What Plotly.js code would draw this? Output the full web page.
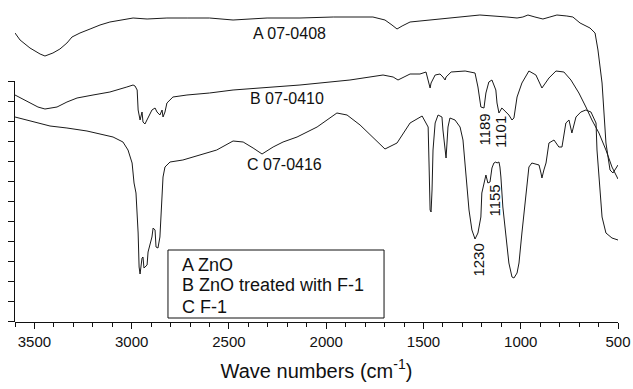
<!DOCTYPE html>
<html>
<head>
<meta charset="utf-8">
<script src="https://cdn.plot.ly/plotly-3.0.1.min.js"></script>
<style>html,body{margin:0;padding:0;background:#fff;}#chart{width:633px;height:389px;}</style>
</head>
<body>
<div id="chart"></div>
<script>
// Wavenumbers (cm-1) and relative transmittance (arbitrary, offset traces)
const waveA = [3600,3574,3523,3471,3446,3405,3369,3333,3307,3266,3214,3163,3112,3060,2993,2921,2819,2715,2600,2479,2304,2135,1964,1760,1698,1662,1636,1610,1569,1518,1364,1210,1071,1019,989,963,927,886,850,814,763,732,695,644,618,603,582,577,572,562,541,526,500];
const transA = [289,282,274,268,266,269,273,279,285,289,293,297,300,302,304,303,304,304,304,302,304,304,305,305,302,297,293,296,300,301,304,307,305,304,305,307,305,303,305,307,306,305,299,294,289,272,239,222,205,179,152,149,157];

const waveB = [3600,3533,3482,3446,3384,3333,3281,3199,3112,3025,2993,2983,2972,2967,2957,2947,2942,2932,2916,2896,2880,2870,2855,2844,2839,2829,2819,2803,2788,2716,2600,2479,2135,1878,1708,1656,1631,1600,1569,1518,1487,1466,1461,1440,1415,1400,1389,1384,1358,1286,1235,1220,1205,1189,1179,1164,1148,1128,1122,1112,1097,1076,1061,1045,1035,1019,994,958,922,891,855,819,778,742,701,665,634,598,562,531,500];
const transB = [227,220,215,213,215,220,224,227,230,235,237,236,232,212,202,210,200,198,205,212,214,210,207,212,205,210,219,222,225,227,229,232,237,242,247,245,242,245,248,248,250,234,239,247,248,245,242,245,250,251,249,235,215,214,229,240,242,232,219,209,214,210,207,202,204,225,239,251,247,234,244,251,250,242,229,215,202,189,172,155,143];

const waveC = [3600,3420,3333,3230,3163,3096,3045,3019,2998,2988,2978,2967,2962,2957,2947,2942,2937,2921,2916,2906,2896,2890,2880,2875,2865,2855,2844,2839,2829,2803,2737,2650,2563,2479,2427,2376,2330,2273,2222,2150,2047,1945,1893,1826,1760,1698,1636,1569,1507,1476,1471,1466,1461,1456,1451,1440,1425,1405,1400,1384,1374,1364,1338,1312,1297,1276,1266,1251,1235,1220,1205,1200,1184,1179,1169,1158,1153,1148,1138,1128,1122,1112,1107,1102,1092,1076,1061,1045,1035,1019,1009,994,973,958,943,922,906,896,891,881,870,855,829,804,788,768,752,737,716,691,665,639,613,608,598,582,562,531,500];
const transC = [205,196,194,191,188,185,180,172,159,139,129,89,55,48,64,65,54,57,70,77,85,94,92,75,74,85,122,145,155,160,162,167,172,181,180,174,168,175,180,185,195,209,207,197,185,173,179,199,206,195,155,112,110,132,172,199,207,205,192,164,195,204,202,195,182,139,112,92,83,89,105,129,145,147,139,140,147,154,159,160,159,160,155,145,115,85,59,45,44,49,59,89,132,155,159,158,157,149,144,152,159,179,182,175,175,199,202,189,205,210,212,210,199,172,145,105,89,84,82];

const seriesLabels = ["A 07-0408", "B 07-0410", "C 07-0416"];
const labelWave = [2191, 2202, 2215];
const labelTrans = [288.5, 224, 157.5];

const peakLabels = ["1189", "1101", "1155", "1230"];
const peakWave = [1191, 1104, 1137, 1222];
const peakTrans = [192, 189.5, 121.5, 62];

const legendLines = ["A ZnO", "B ZnO treated with F-1", "C F-1"];
const xTickVals = [3500, 3000, 2500, 2000, 1500, 1000, 500];

const FONT = "Liberation Sans, Arial, Helvetica, sans-serif";
const lineStyle = {color: "#1a1a1a", width: 1};

const traces = [
  {x: waveA, y: transA, mode: "lines", line: lineStyle, hoverinfo: "skip", showlegend: false},
  {x: waveB, y: transB, mode: "lines", line: lineStyle, hoverinfo: "skip", showlegend: false},
  {x: waveC, y: transC, mode: "lines", line: lineStyle, hoverinfo: "skip", showlegend: false},
  {x: [], y: [], xaxis: "x", yaxis: "y2", mode: "lines", showlegend: false}
];

const annotations = [];
seriesLabels.forEach((t, i) => annotations.push({
  x: labelWave[i], y: labelTrans[i], xref: "x", yref: "y", text: t, showarrow: false,
  font: {family: FONT, size: 16, color: "#111"}, xanchor: "center", yanchor: "middle"
}));
peakLabels.forEach((t, i) => annotations.push({
  x: peakWave[i], y: peakTrans[i], xref: "x", yref: "y", text: t, showarrow: false, textangle: -90,
  font: {family: FONT, size: 15, color: "#111"}, xanchor: "center", yanchor: "middle"
}));
const legendY = [0.177, 0.1149, 0.0466];
legendLines.forEach((t, i) => annotations.push({
  x: 0.2736, y: legendY[i], xref: "paper", yref: "paper", text: t, showarrow: false,
  font: {family: FONT, size: 18, color: "#111"}, xanchor: "left", yanchor: "middle"
}));

const layout = {
  width: 633, height: 389,
  margin: {l: 15, r: 15, t: 0, b: 67, pad: 0},
  paper_bgcolor: "#fff", plot_bgcolor: "rgba(0,0,0,0)",
  font: {family: FONT, color: "#111"},
  xaxis: {
    range: [3600, 500], showgrid: false, zeroline: false,
    showline: true, linecolor: "#111", linewidth: 1,
    ticks: "outside", ticklen: 6, tickcolor: "#111", tickwidth: 1,
    tickvals: xTickVals, tickfont: {family: FONT, size: 15, color: "#111"},
    minor: {dtick: 100, tick0: 500, ticks: "outside", ticklen: 4, tickcolor: "#111", showgrid: false},
    title: {text: "Wave numbers (cm<sup>-1</sup>)", font: {family: FONT, size: 20, color: "#111"}, standoff: 14}
  },
  yaxis: {range: [0, 322], visible: false, fixedrange: true},
  yaxis2: {
    domain: [0, 0.7484], range: [0, 12], anchor: "x",
    showgrid: false, zeroline: false, showline: true, linecolor: "#111", linewidth: 1,
    ticks: "outside", ticklen: 6, tickcolor: "#111", tick0: 0, dtick: 1, showticklabels: false
  },
  shapes: [{
    type: "rect", xref: "paper", yref: "paper",
    x0: 0.2537, x1: 0.612, y0: 0.0124, y1: 0.2236,
    line: {color: "#111", width: 1}, fillcolor: "rgba(0,0,0,0)"
  }],
  annotations: annotations,
  showlegend: false
};

Plotly.newPlot("chart", traces, layout, {staticPlot: true, displayModeBar: false});
</script>
</body>
</html>
